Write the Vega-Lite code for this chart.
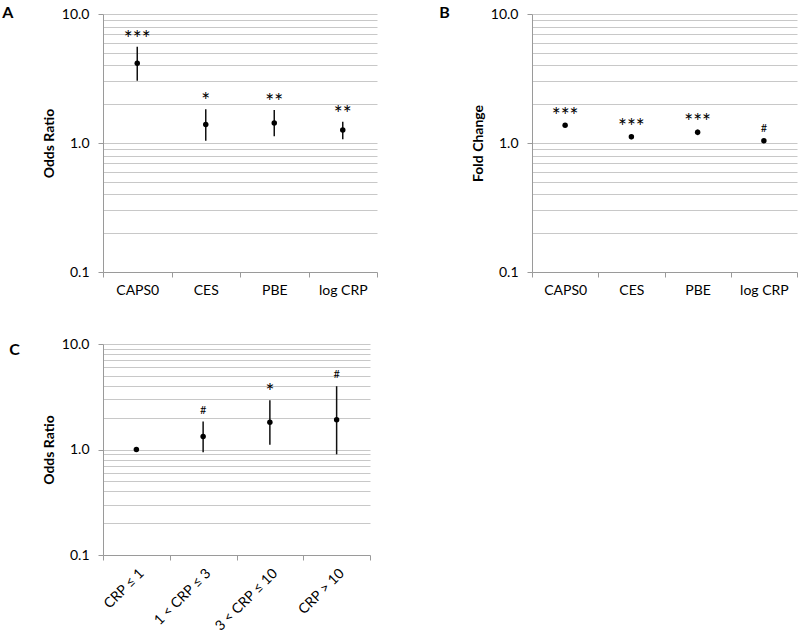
{
  "$schema": "https://vega.github.io/schema/vega-lite/v6.json",
  "background": "white",
  "padding": {"left": 2, "top": 5, "right": 2, "bottom": 2},
  "datasets": {
    "A": [
      {"cat": "CAPS0", "or": 4.15, "lo": 3.04, "hi": 5.58, "sig": "***"},
      {"cat": "CES", "or": 1.39, "lo": 1.04, "hi": 1.83, "sig": "*"},
      {"cat": "PBE", "or": 1.43, "lo": 1.13, "hi": 1.80, "sig": "**"},
      {"cat": "log CRP", "or": 1.26, "lo": 1.07, "hi": 1.46, "sig": "**"}
    ],
    "B": [
      {"cat": "CAPS0", "or": 1.37, "lo": 1.34, "hi": 1.40, "sig": "***"},
      {"cat": "CES", "or": 1.12, "lo": 1.07, "hi": 1.16, "sig": "***"},
      {"cat": "PBE", "or": 1.21, "lo": 1.15, "hi": 1.27, "sig": "***"},
      {"cat": "log CRP", "or": 1.04, "lo": 1.02, "hi": 1.06, "sig": "#"}
    ],
    "C": [
      {"cat": "CRP ≤ 1", "or": 1.0, "lo": 1.0, "hi": 1.0, "sig": ""},
      {"cat": "1 < CRP ≤ 3", "or": 1.33, "lo": 0.94, "hi": 1.84, "sig": "#"},
      {"cat": "3 < CRP ≤ 10", "or": 1.81, "lo": 1.11, "hi": 2.93, "sig": "*"},
      {"cat": "CRP > 10", "or": 1.91, "lo": 0.90, "hi": 3.98, "sig": "#"}
    ]
  },
  "columns": 1,
  "align": "none",
  "spacing": 40,
  "concat": [
    {
      "spacing": 61,
      "hconcat": [
        {
          "width": 274, "height": 258,
          "title": {"text": "A", "dx": -40, "dy": 18},
          "data": {"name": "A"},
          "layer": [
            {"mark": {"type": "rule", "color": "#111", "strokeWidth": 1.5},
             "encoding": {
               "x": {"field": "cat", "type": "nominal", "sort": null, "scale": {"type": "band", "paddingInner": 0, "paddingOuter": 0}, "axis": {"title": null, "labelAngle": 0, "tickBand": "extent"}},
               "y": {"field": "lo", "type": "quantitative", "scale": {"type": "log", "domain": [0.1, 10], "nice": false},
                     "axis": {"title": "Odds Ratio", "values": [0.1,0.2,0.3,0.4,0.5,0.6,0.7,0.8,0.9,1,2,3,4,5,6,7,8,9,10],
                              "labelExpr": "datum.value==0.1?'0.1':datum.value==1?'1.0':datum.value==10?'10.0':''",
                              "gridOpacity": {"condition": {"test": "datum.value==0.1", "value": 0}, "value": 1},
                              "tickOpacity": {"condition": {"test": "datum.value==0.1||datum.value==1||datum.value==10", "value": 1}, "value": 0}}},
               "y2": {"field": "hi"}}},
            {"mark": {"type": "circle", "size": 30, "color": "#000", "opacity": 1},
             "encoding": {
               "x": {"field": "cat", "type": "nominal", "sort": null},
               "y": {"field": "or", "type": "quantitative"}}},
            {"transform": [{"filter": "datum.sig != '#' && datum.sig != ''"}],
             "mark": {"type": "text", "fontSize": 21, "baseline": "alphabetic", "dy": -1, "color": "#000"},
             "encoding": {
               "x": {"field": "cat", "type": "nominal", "sort": null},
               "y": {"field": "hi", "type": "quantitative"},
               "text": {"field": "sig"}}},
            {"transform": [{"filter": "datum.sig == '#'"}],
             "mark": {"type": "text", "fontSize": 11, "baseline": "alphabetic", "dy": -8, "color": "#000"},
             "encoding": {
               "x": {"field": "cat", "type": "nominal", "sort": null},
               "y": {"field": "hi", "type": "quantitative"},
               "text": {"field": "sig"}}}
          ]
        },
        {
          "width": 265, "height": 258,
          "title": {"text": "B", "dx": -32, "dy": 18},
          "data": {"name": "B"},
          "layer": [
            {"mark": {"type": "rule", "color": "#111", "strokeWidth": 1.5},
             "encoding": {
               "x": {"field": "cat", "type": "nominal", "sort": null, "scale": {"type": "band", "paddingInner": 0, "paddingOuter": 0}, "axis": {"title": null, "labelAngle": 0, "tickBand": "extent"}},
               "y": {"field": "lo", "type": "quantitative", "scale": {"type": "log", "domain": [0.1, 10], "nice": false},
                     "axis": {"title": "Fold Change", "values": [0.1,0.2,0.3,0.4,0.5,0.6,0.7,0.8,0.9,1,2,3,4,5,6,7,8,9,10],
                              "labelExpr": "datum.value==0.1?'0.1':datum.value==1?'1.0':datum.value==10?'10.0':''",
                              "gridOpacity": {"condition": {"test": "datum.value==0.1", "value": 0}, "value": 1},
                              "tickOpacity": {"condition": {"test": "datum.value==0.1||datum.value==1||datum.value==10", "value": 1}, "value": 0}}},
               "y2": {"field": "hi"}}},
            {"mark": {"type": "circle", "size": 30, "color": "#000", "opacity": 1},
             "encoding": {
               "x": {"field": "cat", "type": "nominal", "sort": null},
               "y": {"field": "or", "type": "quantitative"}}},
            {"transform": [{"filter": "datum.sig != '#' && datum.sig != ''"}],
             "mark": {"type": "text", "fontSize": 21, "baseline": "alphabetic", "dy": -1, "color": "#000"},
             "encoding": {
               "x": {"field": "cat", "type": "nominal", "sort": null},
               "y": {"field": "hi", "type": "quantitative"},
               "text": {"field": "sig"}}},
            {"transform": [{"filter": "datum.sig == '#'"}],
             "mark": {"type": "text", "fontSize": 11, "baseline": "alphabetic", "dy": -8, "color": "#000"},
             "encoding": {
               "x": {"field": "cat", "type": "nominal", "sort": null},
               "y": {"field": "hi", "type": "quantitative"},
               "text": {"field": "sig"}}}
          ]
        }
      ]
    },
    {
      "width": 267, "height": 211,
      "title": {"text": "C", "dx": -33, "dy": 25},
      "data": {"name": "C"},
      "layer": [
        {"mark": {"type": "rule", "color": "#111", "strokeWidth": 1.5},
         "encoding": {
           "x": {"field": "cat", "type": "nominal", "sort": null, "scale": {"type": "band", "paddingInner": 0, "paddingOuter": 0}, "axis": {"title": null, "labelAngle": -45, "tickBand": "extent"}},
           "y": {"field": "lo", "type": "quantitative", "scale": {"type": "log", "domain": [0.1, 10], "nice": false},
                 "axis": {"title": "Odds Ratio", "values": [0.1,0.2,0.3,0.4,0.5,0.6,0.7,0.8,0.9,1,2,3,4,5,6,7,8,9,10],
                          "labelExpr": "datum.value==0.1?'0.1':datum.value==1?'1.0':datum.value==10?'10.0':''",
                          "gridOpacity": {"condition": {"test": "datum.value==0.1", "value": 0}, "value": 1},
                          "tickOpacity": {"condition": {"test": "datum.value==0.1||datum.value==1||datum.value==10", "value": 1}, "value": 0}}},
           "y2": {"field": "hi"}}},
        {"mark": {"type": "circle", "size": 30, "color": "#000", "opacity": 1},
         "encoding": {
           "x": {"field": "cat", "type": "nominal", "sort": null},
           "y": {"field": "or", "type": "quantitative"}}},
        {"transform": [{"filter": "datum.sig != '#' && datum.sig != ''"}],
         "mark": {"type": "text", "fontSize": 21, "baseline": "alphabetic", "dy": -1, "color": "#000"},
         "encoding": {
           "x": {"field": "cat", "type": "nominal", "sort": null},
           "y": {"field": "hi", "type": "quantitative"},
           "text": {"field": "sig"}}},
        {"transform": [{"filter": "datum.sig == '#'"}],
         "mark": {"type": "text", "fontSize": 11, "baseline": "alphabetic", "dy": -8, "color": "#000"},
         "encoding": {
           "x": {"field": "cat", "type": "nominal", "sort": null},
           "y": {"field": "hi", "type": "quantitative"},
           "text": {"field": "sig"}}}
      ]
    }
  ],
  "config": {
    "font": "Lato",
    "view": {"stroke": null},
    "title": {"anchor": "start", "frame": "bounds", "fontSize": 16, "fontWeight": "bold", "font": "Lato", "color": "#000", "baseline": "top", "offset": 0},
    "text": {"font": "Lato"},
    "axis": {
      "domainColor": "#9a9a9a", "tickColor": "#9a9a9a", "gridColor": "#c8c8c8", "tickSize": 5,
      "labelFont": "Lato", "labelFontSize": 14, "labelColor": "#000", "labelOverlap": false,
      "titleFont": "Lato", "titleFontSize": 14, "titleFontWeight": "bold", "titleColor": "#000", "titlePadding": 5
    },
    "axisY": {"grid": true, "labelFontSize": 14, "labelPadding": 9},
    "axisX": {"grid": false, "labelPadding": 6}
  }
}
